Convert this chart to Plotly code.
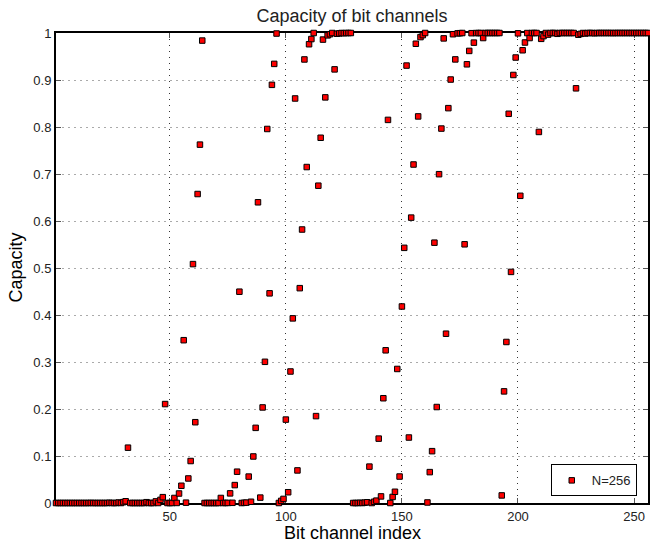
import plotly.graph_objects as go

# Bit channel index (1..256)
channel_index = list(range(1, 257))

# Capacity of each bit channel (N=256)
capacity = [
    0, 0, 0, 0, 0, 0, 0, 0, 0, 0, 0, 0, 0, 0, 0, 0.0002,
    0, 0, 0, 0, 0, 0, 0, 0.0005, 0, 0, 0, 0.001, 0, 0.0019, 0.0037, 0.1177,
    0, 0, 0, 0, 0, 0, 0, 0.0017, 0, 0, 0, 0.0034, 0, 0.0066, 0.0124, 0.2105,
    0, 0, 0, 0.0107, 0.0001, 0.0202, 0.0367, 0.3464, 0.0007, 0.0522, 0.0893, 0.5083, 0.1719, 0.6574, 0.7625, 0.9839,
    0, 0, 0, 0, 0, 0, 0, 0.0107, 0, 0.0001, 0.0001, 0.0205, 0.0004, 0.0381, 0.0666, 0.4496,
    0, 0.0004, 0.0008, 0.0562, 0.0026, 0.0990, 0.1599, 0.6398, 0.0115, 0.2033, 0.3004, 0.7958, 0.4461, 0.8897, 0.9343, 0.9989,
    0, 0.0045, 0.0087, 0.1775, 0.0229, 0.2798, 0.3928, 0.8607, 0.0693, 0.4571, 0.5819, 0.9437, 0.7148, 0.9761, 0.9871, 1.0,
    0.1849, 0.6751, 0.7771, 0.9860, 0.8630, 0.9950, 0.9974, 1.0, 0.9226, 0.9984, 0.9992, 1.0, 0.9996, 1.0, 1.0, 1.0,
    0, 0, 0, 0.0004, 0, 0.0008, 0.0016, 0.0774, 0, 0.0026, 0.0050, 0.1370, 0.0140, 0.2229, 0.3249, 0.8151,
    0, 0.0129, 0.0239, 0.2852, 0.0563, 0.4181, 0.5429, 0.9307, 0.1393, 0.6072, 0.7202, 0.9771, 0.8225, 0.9913, 0.9955, 1.0,
    0.0011, 0.0657, 0.1103, 0.5539, 0.2042, 0.6996, 0.7967, 0.9885, 0.3602, 0.8401, 0.9010, 0.9974, 0.9438, 0.9992, 0.9996, 1.0,
    0.5504, 0.9334, 0.9619, 0.9996, 0.9795, 0.9999, 0.9999, 1.0, 0.9893, 1, 1, 1, 1, 1, 1, 1,
    0.0161, 0.2375, 0.3426, 0.8281, 0.4917, 0.9107, 0.9478, 0.9993, 0.6536, 0.9633, 0.9798, 0.9999, 0.9893, 1, 1, 1,
    0.7895, 0.9876, 0.9934, 1, 0.9966, 1, 1, 1, 0.9983, 1, 1, 1, 1, 1, 1, 1,
    0.8823, 0.9963, 0.9981, 1, 0.999, 1, 1, 1, 0.9995, 1, 1, 1, 1, 1, 1, 1,
    0.9998, 1, 1, 1, 1, 1, 1, 1, 1, 1, 1, 1, 1, 1, 1, 1,
]

x_ticks = [50, 100, 150, 200, 250]
y_ticks = [0, 0.1, 0.2, 0.3, 0.4, 0.5, 0.6, 0.7, 0.8, 0.9, 1]
y_tick_labels = ["0", "0.1", "0.2", "0.3", "0.4", "0.5", "0.6", "0.7", "0.8", "0.9", "1"]

FONT = "Liberation Sans, Arial, Helvetica, sans-serif"

fig = go.Figure()
fig.add_trace(go.Scatter(
    x=channel_index, y=capacity, mode="markers", name="N=256",
    marker=dict(symbol="square", size=5.5, color="#ff0000",
                line=dict(color="#000000", width=1)),
    cliponaxis=False,
))

fig.update_layout(
    width=650, height=543,
    margin=dict(l=56, r=0, t=33, b=40),
    paper_bgcolor="white", plot_bgcolor="white",
    font=dict(family=FONT, size=12, color="#222222"),
    title=dict(text="Capacity of bit channels", x=0.5, xref="paper",
               y=1 - 16 / 543, yref="container", xanchor="center", yanchor="middle",
               font=dict(size=18, color="#222222")),
    showlegend=True,
    legend=dict(x=0.981, y=0.014, xanchor="right", yanchor="bottom",
                bordercolor="#000000", borderwidth=1, bgcolor="white",
                font=dict(size=13, color="#222222"), itemwidth=30,
                tracegroupgap=0),
    annotations=[
        dict(text="Bit channel index", x=0.5, y=0, xref="paper", yref="paper",
             yshift=-29.5, showarrow=False, xanchor="center", yanchor="middle",
             font=dict(size=18, color="#000000")),
        dict(text="Capacity", x=0, y=0.5, xref="paper", yref="paper",
             xshift=-40.5, showarrow=False, textangle=-90, xanchor="center", yanchor="middle",
             font=dict(size=18, color="#000000")),
    ],
)

fig.update_xaxes(
    range=[1, 256], tickvals=x_ticks, ticks="inside", ticklen=5, tickcolor="#555555",
    showline=True, linecolor="#000000", linewidth=2, mirror="ticks",
    showgrid=True, gridcolor="#333333", griddash="1px,5px", gridwidth=1,
    zeroline=False, layer="below traces", tickfont=dict(size=13),
)
fig.update_yaxes(
    range=[0, 1], tickvals=y_ticks, ticktext=y_tick_labels, ticks="inside", ticklen=5,
    tickcolor="#555555",
    showline=True, linecolor="#000000", linewidth=2, mirror="ticks",
    showgrid=True, gridcolor="#aaaaaa", griddash="2px,4px", gridwidth=1,
    zeroline=False, layer="below traces", tickfont=dict(size=13),
)

fig.write_html("out.html", config={"displayModeBar": False},
               post_script="document.body.style.margin='0';")
